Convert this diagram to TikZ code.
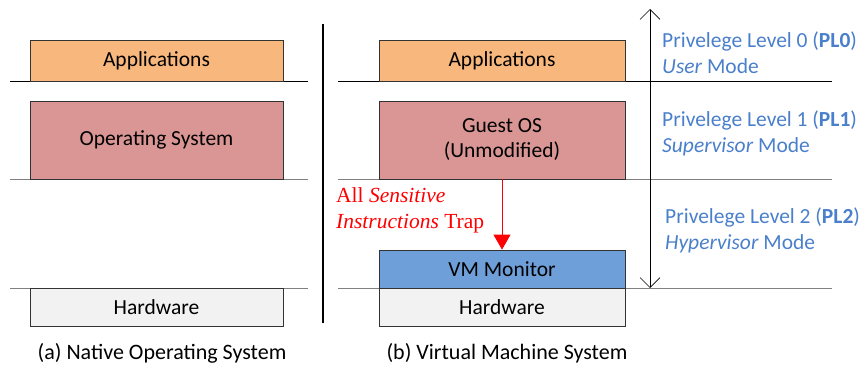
\documentclass[tikz,border=0pt]{standalone}
\usepackage{fontspec}
\setmainfont{Carlito}
\newfontfamily\serifred{Liberation Serif}
\usetikzlibrary{arrows.meta}
\definecolor{appc}{HTML}{F8B77C}
\definecolor{osc}{HTML}{D99694}
\definecolor{vmmc}{HTML}{6F9FD8}
\definecolor{hwc}{HTML}{F2F2F2}
\definecolor{bluet}{HTML}{4A7FCB}
\definecolor{grayl}{HTML}{808080}
\tikzset{
  layerbox/.style={draw=black!80, line width=0.8pt, inner sep=0pt, align=center, font=\fontsize{21.5}{25}\selectfont},
  hrule/.style={line width=0.8pt},
  plabel/.style={anchor=base west, align=left, text=bluet, font=\fontsize{21.5}{26}\selectfont, inner sep=0pt},
  captxt/.style={font=\fontsize{22}{26}\selectfont, inner sep=0pt}
}
\begin{document}
\begin{tikzpicture}[x=1pt,y=-1pt]
\useasboundingbox (0,0) rectangle (862,367);
% left panel rules
\coordinate (la1) at (10,81); \coordinate (lb1) at (308,81);
\coordinate (la2) at (10,179); \coordinate (lb2) at (308,179);
\coordinate (la3) at (10,288); \coordinate (lb3) at (308,288);
\draw[hrule] (la1) -- (lb1);
\draw[hrule, grayl] (la2) -- (lb2);
\draw[hrule, grayl] (la3) -- (lb3);
% right panel rules
\coordinate (ra1) at (338,81); \coordinate (rb1) at (832,81);
\coordinate (ra2) at (338,179); \coordinate (rb2) at (832,179);
\coordinate (ra3) at (338,288); \coordinate (rb3) at (832,288);
\draw[hrule] (ra1) -- (rb1);
\draw[hrule, grayl] (ra2) -- (rb2);
\draw[hrule, grayl] (ra3) -- (rb3);
% left boxes
\node[layerbox, fill=appc, minimum width=253pt, minimum height=41pt] (lapp) at (156.5,60.5) {Applications};
\node[layerbox, fill=osc, minimum width=253pt, minimum height=78pt] (los) at (156.5,140) {Operating System};
\node[layerbox, fill=hwc, minimum width=253pt, minimum height=38pt] (lhw) at (156.5,307) {Hardware};
% divider
\coordinate (dv1) at (323,24); \coordinate (dv2) at (323,323);
\draw[line width=2pt] (dv1) -- (dv2);
% right boxes
\node[layerbox, fill=appc, minimum width=246pt, minimum height=41pt] (rapp) at (502,60.5) {Applications};
\node[layerbox, fill=osc, minimum width=246pt, minimum height=78pt] (ros) at (502,140) {Guest OS\\(Unmodified)};
\node[layerbox, fill=vmmc, minimum width=246pt, minimum height=38pt] (vmm) at (502,269) {VM Monitor};
\node[layerbox, fill=hwc, minimum width=246pt, minimum height=38pt] (rhw) at (502,307) {Hardware};
% trap arrow
\draw[red, line width=0.8pt, -{Triangle[length=15pt,width=17pt]}] (ros.south) -- (vmm.north);
\node[anchor=base west, inner sep=0pt, align=left, text=red, font=\serifred\fontsize{21.5}{25.5}\selectfont] (trap) at (336,228) {All \textit{Sensitive}\\\textit{Instructions} Trap};
% privilege arrow
\coordinate (pa1) at (650,9); \coordinate (pa2) at (650,288);
\draw[line width=0.6pt, {Straight Barb[length=10pt,width=20pt]}-{Straight Barb[length=10pt,width=20pt]}] (pa1) -- (pa2);
\node[plabel] (pl0) at (662,73) {Privelege Level 0 (\textbf{PL0})\\\textit{User} Mode};
\node[plabel] (pl1) at (662,152) {Privelege Level 1 (\textbf{PL1})\\\textit{Supervisor} Mode};
\node[plabel] (pl2) at (665,249) {Privelege Level 2 (\textbf{PL2})\\\textit{Hypervisor} Mode};
% captions
\node[captxt] (capa) at (162,353) {(a) Native Operating System};
\node[captxt] (capb) at (507,353) {(b) Virtual Machine System};
\end{tikzpicture}
\end{document}
